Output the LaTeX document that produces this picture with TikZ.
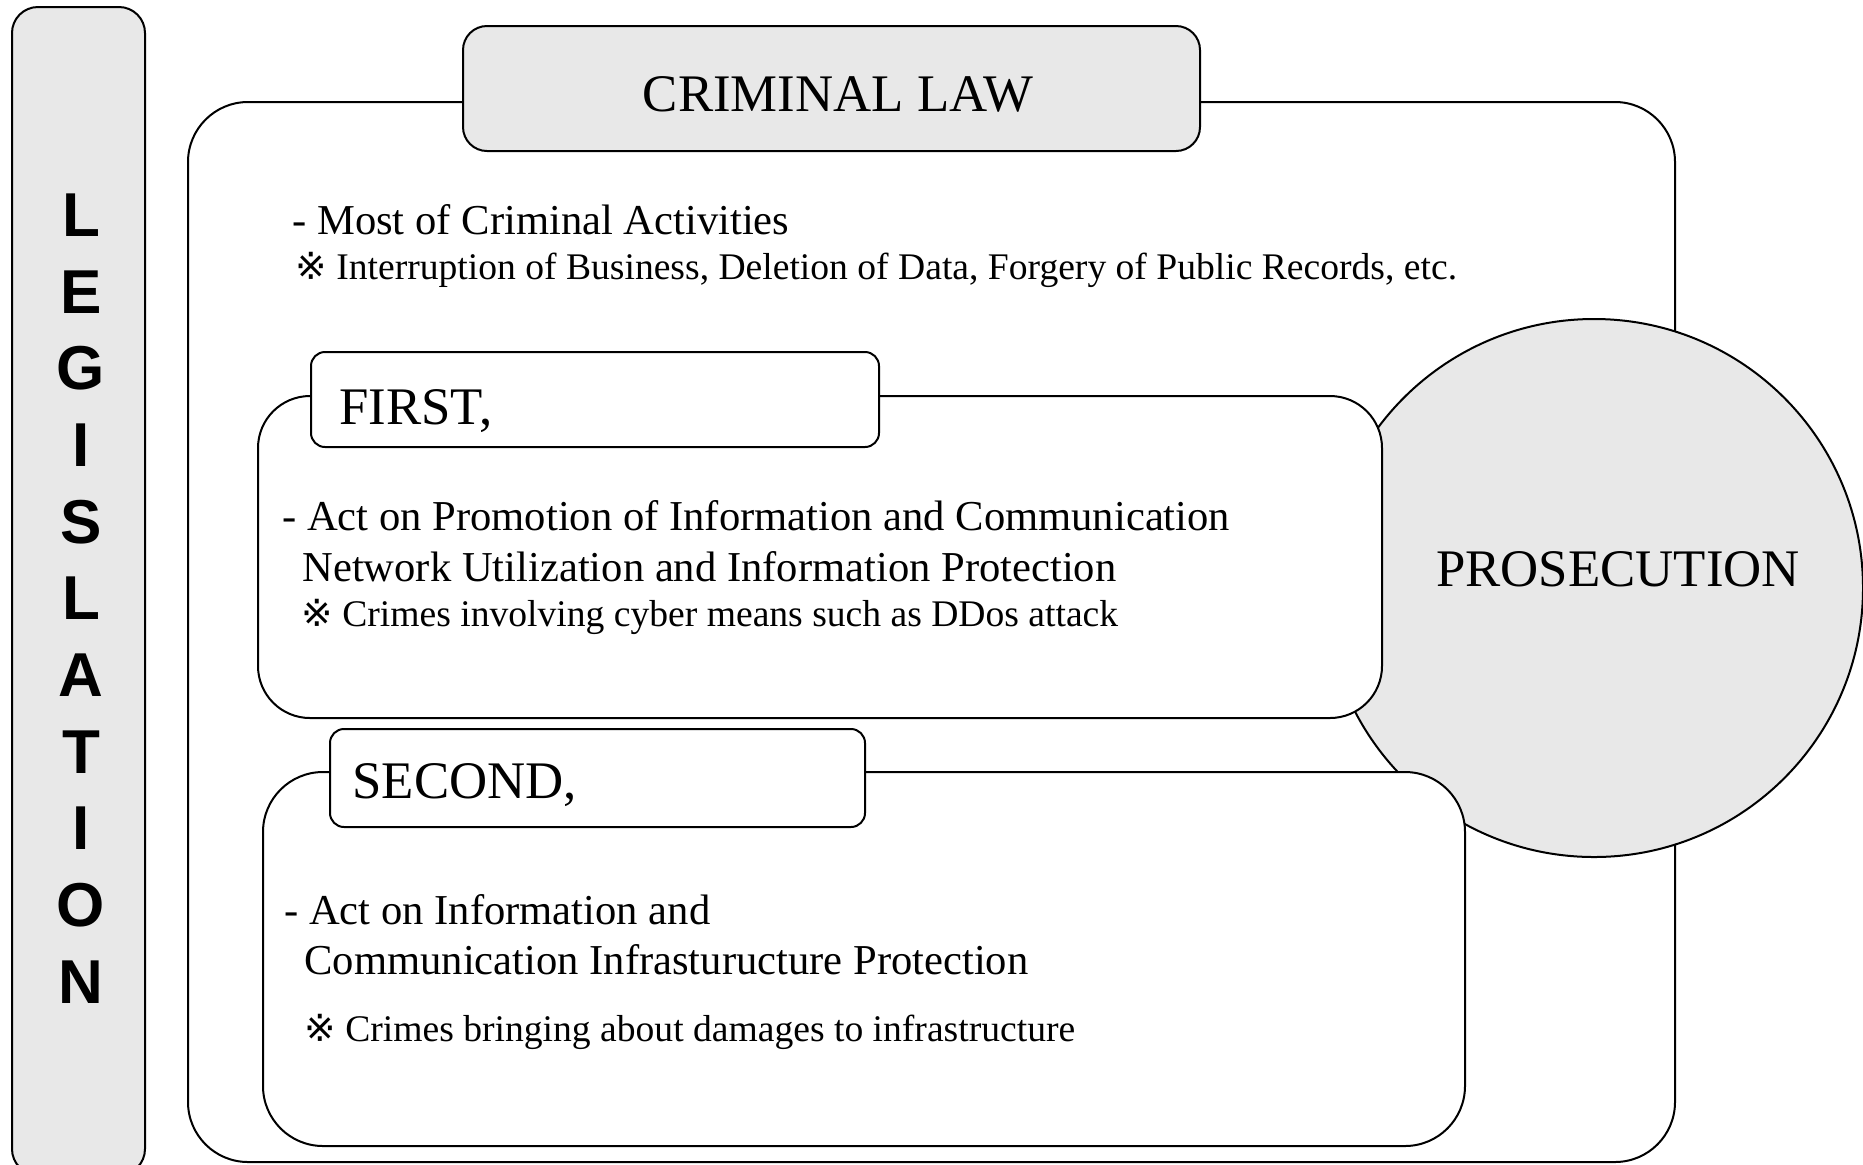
\documentclass[tikz,border=0pt]{standalone}
\usepackage{fontspec}
\setmainfont{Liberation Serif}
\newfontfamily\refmark{DejaVu Sans}
\newfontfamily\legfont{Liberation Sans}

\tikzset{
	box/.style = {draw, line width = 1pt, rounded corners = #1, fill = white},
	greybox/.style = {box = #1, fill = black!9},
	line/.style = {anchor = base west, inner sep = 0pt},
	titletext/.style = {font = \fontsize{26.4}{30}\selectfont},
	bodytext/.style = {line, font = \fontsize{21.3}{25}\selectfont},
	notetext/.style = {line, font = \fontsize{18.8}{22}\selectfont}
}

\newcommand{\rmark}{{\refmark\char"203B}}

\begin{document}
\begin{tikzpicture}[x = 0.5pt, y = -0.5pt]

	% Page frame (pixel coordinates, y downwards)
	
	\useasboundingbox (0, 0) rectangle (1863, 1164);
	
	% Legislation column
	
	\node [greybox = 13pt, minimum width = 66.5pt, minimum height = 584pt] (legis) at (78.5, 591) {};
	\foreach \ch [count = \i] in {L,E,G,I,S,L,A,T,I,O,N}
		\node [font = \legfont\bfseries\fontsize{31}{31}\selectfont] (letter-\i) at (81, {215 + (\i - 1) * 76.7}) {\ch};
	
	% Criminal law frame and its title
	
	\node [box = 30pt, minimum width = 743.5pt, minimum height = 530pt] (crim) at (931.5, 632) {};
	\node [greybox = 12pt, minimum width = 368.5pt, minimum height = 62.5pt] (crim-title) at (831.5, 88.5) {};
	\node [titletext, inner sep = 0pt] (crim-text) at (838, 94) {CRIMINAL LAW};
	
	\node [bodytext] (crim-l1) at (292, 234) {- Most of Criminal Activities};
	\node [notetext] (crim-l2) at (295, 279) {\rmark\ Interruption of Business, Deletion of Data, Forgery of Public Records, etc.};
	
	% Prosecution circle
	
	\node [draw, line width = 1pt, circle, fill = black!9, minimum size = 269pt] (prosec) at (1594, 588) {};
	\node [titletext, inner sep = 0pt] (prosec-text) at (1618, 569) {PROSECUTION};
	
	% First act
	
	\node [box = 26pt, minimum width = 562pt, minimum height = 161pt] (first) at (820, 557) {};
	\node [box = 7pt, minimum width = 284pt, minimum height = 47.5pt] (first-title) at (595, 399.5) {};
	\node [line, titletext] (first-name) at (339, 424) {FIRST,};
	
	\node [bodytext] (first-l1) at (282, 530) {- Act on Promotion of Information and Communication};
	\node [bodytext] (first-l2) at (302, 581) {Network Utilization and Information Protection};
	\node [notetext] (first-l3) at (301, 626) {\rmark\ Crimes involving cyber means such as DDos attack};
	
	% Second act
	
	\node [box = 30pt, minimum width = 601pt, minimum height = 187pt] (second) at (864, 959) {};
	\node [box = 7pt, minimum width = 267.5pt, minimum height = 49pt] (second-title) at (597.5, 778) {};
	\node [line, titletext] (second-name) at (352, 798) {SECOND,};
	
	\node [bodytext] (second-l1) at (284, 924) {- Act on Information and};
	\node [bodytext] (second-l2) at (304, 974) {Communication Infrasturucture Protection};
	\node [notetext] (second-l3) at (304, 1041) {\rmark\ Crimes bringing about damages to infrastructure};
	
\end{tikzpicture}
\end{document}
